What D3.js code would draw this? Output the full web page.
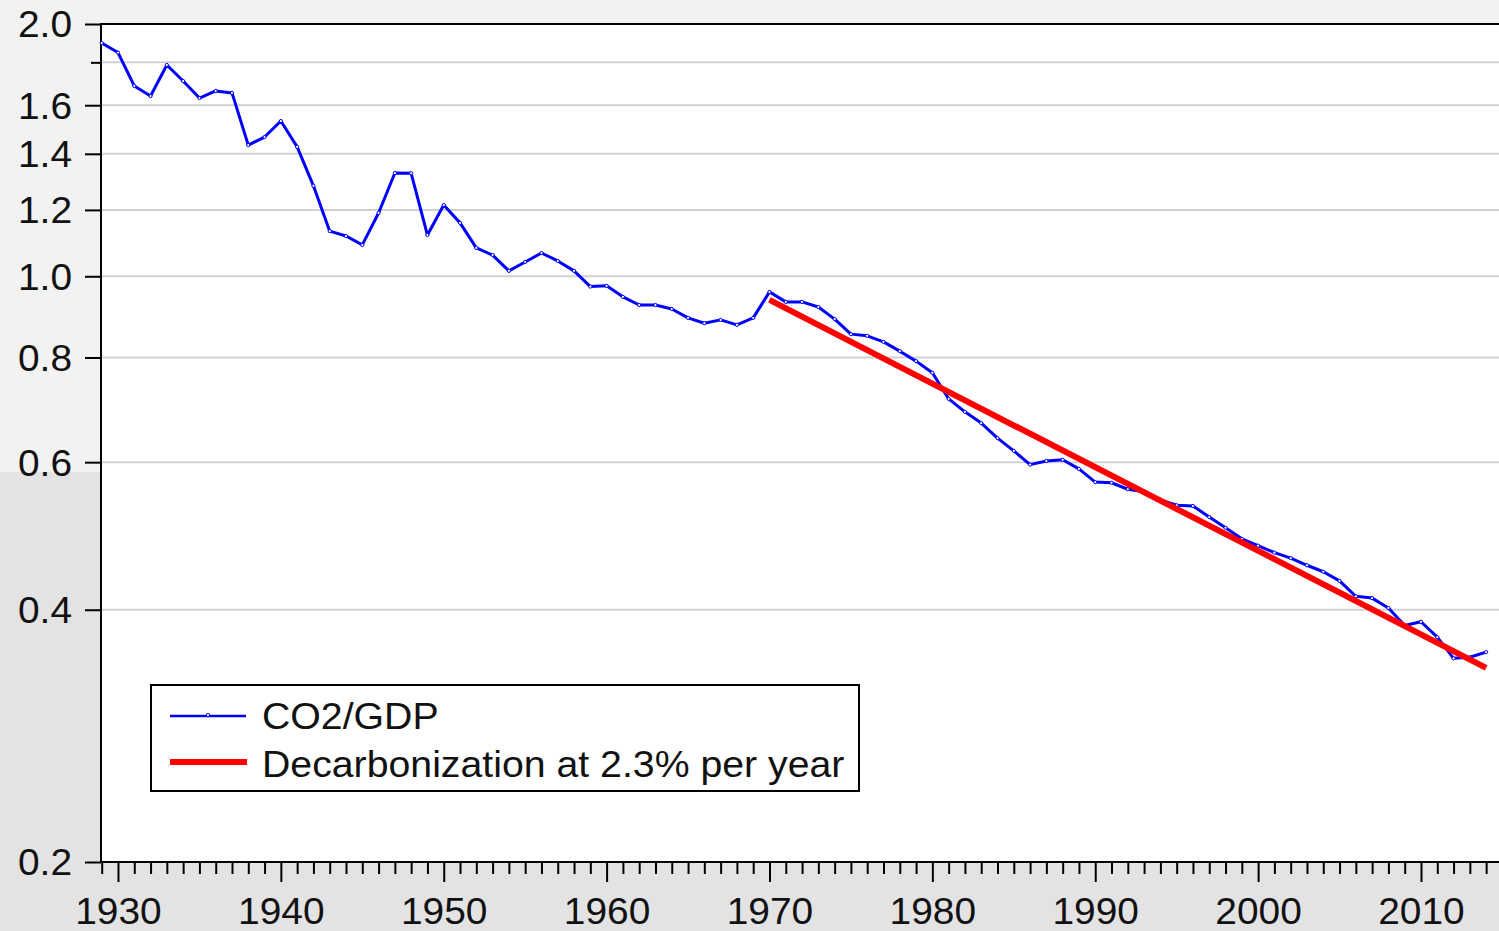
<!DOCTYPE html>
<html lang="en">
<head>
<meta charset="UTF-8">
<title>CO2/GDP</title>
<style>
  body { margin: 0; background: #f2f2f2; font-family: 'Liberation Sans', Arial, sans-serif; }
  svg { display: block; }
  .grid line { stroke: #d0d0d0; stroke-width: 2px; }
  .axis text { font-family: 'Liberation Sans', Arial, sans-serif; font-size: 36px; fill: #111; }
  .axis path, .axis line { stroke: #000; stroke-width: 2px; }
</style>
<script src="https://d3js.org/d3.v7.min.js"></script>
</head>
<body>
<svg id="chart" width="1499" height="931"></svg>
<script>
// CO2 per unit of GDP (log scale)
const years = d3.range(1929, 2015);
const co2gdp = [
  1.898, 1.849, 1.687, 1.641, 1.787, 1.710, 1.632, 1.664, 1.655, 1.434,
  1.466, 1.532, 1.427, 1.282, 1.132, 1.117, 1.090, 1.190, 1.328, 1.327,
  1.120, 1.216, 1.158, 1.081, 1.060, 1.015, 1.040, 1.066, 1.043, 1.015,
  0.972, 0.974, 0.945, 0.924, 0.924, 0.914, 0.892, 0.879, 0.887, 0.875,
  0.892, 0.958, 0.932, 0.932, 0.919, 0.889, 0.853, 0.849, 0.835, 0.814,
  0.792, 0.767, 0.714, 0.689, 0.668, 0.641, 0.619, 0.596, 0.602, 0.604,
  0.589, 0.568, 0.567, 0.557, 0.553, 0.541, 0.533, 0.532, 0.516, 0.501,
  0.486, 0.477, 0.468, 0.461, 0.452, 0.444, 0.433, 0.415, 0.413, 0.402,
  0.383, 0.387, 0.371, 0.350, 0.351, 0.356
];
// trend line end points (2.3% per year)
const trendYears = [1970, 2014];
const trendValues = [0.937, 0.341];

const yTicks = [0.2, 0.4, 0.6, 0.8, 1.0, 1.2, 1.4, 1.6, 1.8, 2.0];
const yLabels = ["0.2", "0.4", "0.6", "0.8", "1.0", "1.2", "1.4", "1.6", "", "2.0"];
const xTicks = [1930, 1940, 1950, 1960, 1970, 1980, 1990, 2000, 2010];
const seriesNames = ["CO2/GDP", "Decarbonization at 2.3% per year"];

const svg = d3.select("#chart");
const plotLeft = 101, plotTop = 24, plotBottom = 862;
const stretch = 1.08; // the original text is a little wide

const x = d3.scaleLinear().domain([1929, 2015]).range([101.7, 101.7 + 86 * 16.2875]);
const y = d3.scaleLog().domain([0.2, 2.0]).range([plotBottom, plotTop]);

// background shading
svg.append("rect").attr("x", 0).attr("y", 472).attr("width", plotLeft).attr("height", 931 - 472).attr("fill", "#e3e3e3");
svg.append("rect").attr("x", 0).attr("y", plotBottom).attr("width", 1499).attr("height", 931 - plotBottom).attr("fill", "#e3e3e3");
svg.append("rect").attr("x", plotLeft).attr("y", plotTop).attr("width", 1499 - plotLeft + 10).attr("height", plotBottom - plotTop).attr("fill", "#fff");

// grid
svg.append("g").attr("class", "grid")
  .selectAll("line").data(yTicks.slice(1, -1)).join("line")
  .attr("x1", plotLeft).attr("x2", 1510)
  .attr("y1", d => y(d)).attr("y2", d => y(d));

// y axis
const yAxis = svg.append("g").attr("class", "axis")
  .attr("transform", `translate(${plotLeft},0)`)
  .call(d3.axisLeft(y).tickValues(yTicks).tickSize(16).tickPadding(13)
    .tickFormat((d, i) => yLabels[i]));
yAxis.select(".domain").remove();
yAxis.selectAll(".tick").filter(d => d === 1.8).select("line").attr("x2", -10);
yAxis.selectAll("text").attr("dy", "0.36em");

// x axis: minor ticks each year, major every decade
const xMinor = svg.append("g").attr("class", "axis")
  .attr("transform", `translate(0,${plotBottom})`)
  .call(d3.axisBottom(x).tickValues(years.concat([2015]).filter(d => d % 10 !== 0)).tickSize(12).tickFormat(""));
xMinor.select(".domain").remove();
const xAxis = svg.append("g").attr("class", "axis")
  .attr("transform", `translate(0,${plotBottom})`)
  .call(d3.axisBottom(x).tickValues(xTicks).tickSize(20).tickPadding(10).tickFormat(d3.format("d")));
xAxis.select(".domain").remove();
xAxis.selectAll("text").attr("dy", "0.71em").attr("y", 36);

// widen axis labels slightly to match the original
svg.selectAll(".axis text").each(function () {
  const w = this.getComputedTextLength();
  if (w > 0) d3.select(this).attr("textLength", w * stretch).attr("lengthAdjust", "spacingAndGlyphs");
});

// frame
svg.append("line").attr("x1", plotLeft).attr("x2", 1510).attr("y1", plotTop).attr("y2", plotTop).attr("stroke", "#000").attr("stroke-width", 2);
svg.append("line").attr("x1", plotLeft).attr("x2", 1510).attr("y1", plotBottom).attr("y2", plotBottom).attr("stroke", "#000").attr("stroke-width", 2);
svg.append("line").attr("x1", plotLeft).attr("x2", plotLeft).attr("y1", plotTop - 1).attr("y2", plotBottom + 1).attr("stroke", "#000").attr("stroke-width", 2);

// series
const line = d3.line().x(d => x(d[0])).y(d => y(d[1]));
const pts = years.map((yr, i) => [yr, co2gdp[i]]);
svg.append("path").datum(pts).attr("d", line)
  .attr("fill", "none").attr("stroke", "#0000ff").attr("stroke-width", 3).attr("stroke-linejoin", "round");
svg.append("g").selectAll("circle").data(pts).join("circle")
  .attr("cx", d => x(d[0])).attr("cy", d => y(d[1])).attr("r", 1.6)
  .attr("fill", "#fff").attr("stroke", "#0000ff").attr("stroke-width", 1);

svg.append("path").datum(trendYears.map((yr, i) => [yr, trendValues[i]])).attr("d", line)
  .attr("fill", "none").attr("stroke", "#ff0000").attr("stroke-width", 6);

// legend
const lg = svg.append("g");
lg.append("rect").attr("x", 151).attr("y", 685).attr("width", 708).attr("height", 106)
  .attr("fill", "#fff").attr("stroke", "#000").attr("stroke-width", 2);
lg.append("line").attr("x1", 170).attr("x2", 246).attr("y1", 716).attr("y2", 716)
  .attr("stroke", "#0000ff").attr("stroke-width", 2.6);
lg.append("circle").attr("cx", 208).attr("cy", 715).attr("r", 1.6)
  .attr("fill", "#fff").attr("stroke", "#0000ff");
lg.append("line").attr("x1", 170).attr("x2", 247).attr("y1", 762).attr("y2", 762)
  .attr("stroke", "#ff0000").attr("stroke-width", 6);
lg.selectAll("text").data(seriesNames).join("text")
  .attr("x", 262).attr("y", (d, i) => 729 + i * 48)
  .attr("font-size", 36).attr("fill", "#111")
  .text(d => d)
  .each(function () {
    const w = this.getComputedTextLength();
    d3.select(this).attr("textLength", w * 1.09).attr("lengthAdjust", "spacingAndGlyphs");
  });
</script>
</body>
</html>
